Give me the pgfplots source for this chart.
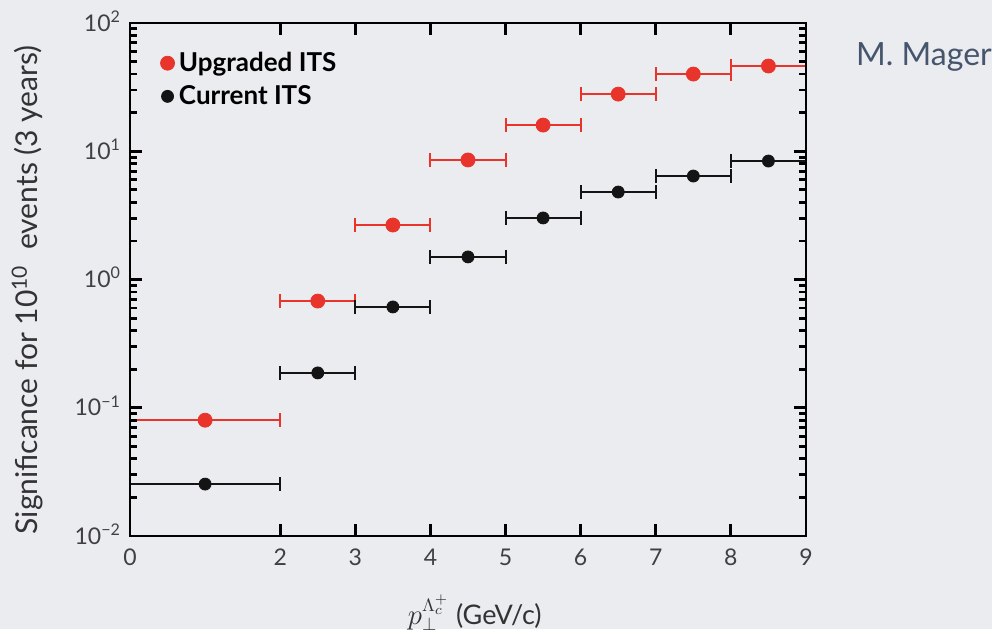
\documentclass[border=0pt]{standalone}
\usepackage{pgfplots}
\pgfplotsset{compat=1.18}
\usepackage{fontspec}
\setmainfont{Lato}
\definecolor{bg}{RGB}{234,236,240}
\definecolor{myred}{RGB}{232,52,42}
\definecolor{myblack}{RGB}{20,20,20}
\definecolor{mager}{RGB}{70,84,108}

\begin{document}
\begin{tikzpicture}
\fill[bg] (0,0) rectangle (496pt,314.5pt);
\useasboundingbox (0,0) rectangle (496pt,314.5pt);
\begin{axis}[
  at={(65pt,46.5pt)}, anchor=south west,
  scale only axis, width=338pt, height=256.5pt,
  axis on top,
  xmin=0, xmax=9, ymode=log, ymin=1e-2, ymax=1e2,
  xtick={0,2,3,4,5,6,7,8,9},
  ytick={1e-2,1e-1,1,10,100},
  yticklabels={10\textsuperscript{−2},10\textsuperscript{−1},10\textsuperscript{0},10\textsuperscript{1},10\textsuperscript{2}},
  minor ytick={2e-2,3e-2,4e-2,5e-2,6e-2,7e-2,8e-2,9e-2,
    2e-1,3e-1,4e-1,5e-1,6e-1,7e-1,8e-1,9e-1,
    2,3,4,5,6,7,8,9,20,30,40,50,60,70,80,90},
  /pgf/number format/assume math mode=true,
  xtick pos=both, ytick pos=both,
  tick align=inside, tickwidth=6pt, subtickwidth=3.5pt,
  axis line style={line width=1.2pt},
  xtick style={black, line width=1.4pt},
  ytick style={black, line width=1.4pt},
  tick label style={font=\fontsize{11.5}{13}\selectfont, text=black!75},
  yticklabel style={xshift=-1pt, yshift=1pt},
  xticklabel style={yshift=-3pt},
  clip=false,
  ylabel={Significance for 10\textsuperscript{10}\ \ events (3 years)},
  ylabel style={at={(axis description cs:-0.152,0.48)}, anchor=center, font=\fontsize{15}{17}\selectfont, text=black!80},
  xlabel={$p_{\perp}^{\Lambda_c^+}$ (GeV/c)},
  xlabel style={at={(axis description cs:0.51,-0.15)}, anchor=center, font=\fontsize{13.5}{15}\selectfont, text=black!80},
  legend style={at={(axis description cs:0.044,0.952)}, anchor=north west, draw=none, fill=none,
    font=\fontsize{13}{15}\selectfont\bfseries, row sep=1.5pt, inner sep=0pt},
  legend cell align=left,
]
\addplot+[only marks, mark=*, mark size=3.5pt, color=myred, mark options={fill=myred, draw=myred},
  error bars/.cd, x dir=both, x explicit,
  error bar style={line width=1pt, myred},
  error mark options={rotate=90, mark size=3.5pt, line width=1pt, myred},
  /pgfplots/legend image code/.code={\fill[myred] (0pt,0pt) circle (3.5pt);}]
coordinates {
  (1,0.080) +- (1,0)
  (2.5,0.679) +- (0.5,0)
  (3.5,2.66) +- (0.5,0)
  (4.5,8.55) +- (0.5,0)
  (5.5,16.0) +- (0.5,0)
  (6.5,27.9) +- (0.5,0)
  (7.5,40.0) +- (0.5,0)
  (8.5,46.2) +- (0.5,0)
};
\addlegendentry{Upgraded ITS}
\addplot+[only marks, mark=*, mark size=3pt, color=myblack, mark options={fill=myblack, draw=myblack},
  error bars/.cd, x dir=both, x explicit,
  error bar style={line width=1pt, myblack},
  error mark options={rotate=90, mark size=3.5pt, line width=1pt, myblack},
  /pgfplots/legend image code/.code={\fill[myblack] (0pt,0pt) circle (3pt);}]
coordinates {
  (1,0.0254) +- (1,0)
  (2.5,0.187) +- (0.5,0)
  (3.5,0.611) +- (0.5,0)
  (4.5,1.50) +- (0.5,0)
  (5.5,3.02) +- (0.5,0)
  (6.5,4.81) +- (0.5,0)
  (7.5,6.41) +- (0.5,0)
  (8.5,8.39) +- (0.5,0)
};
\addlegendentry{Current ITS}
\end{axis}
\node[text=mager, font=\fontsize{16}{18}\selectfont] at (462pt,286pt) {M. Mager};
\end{tikzpicture}
\end{document}
